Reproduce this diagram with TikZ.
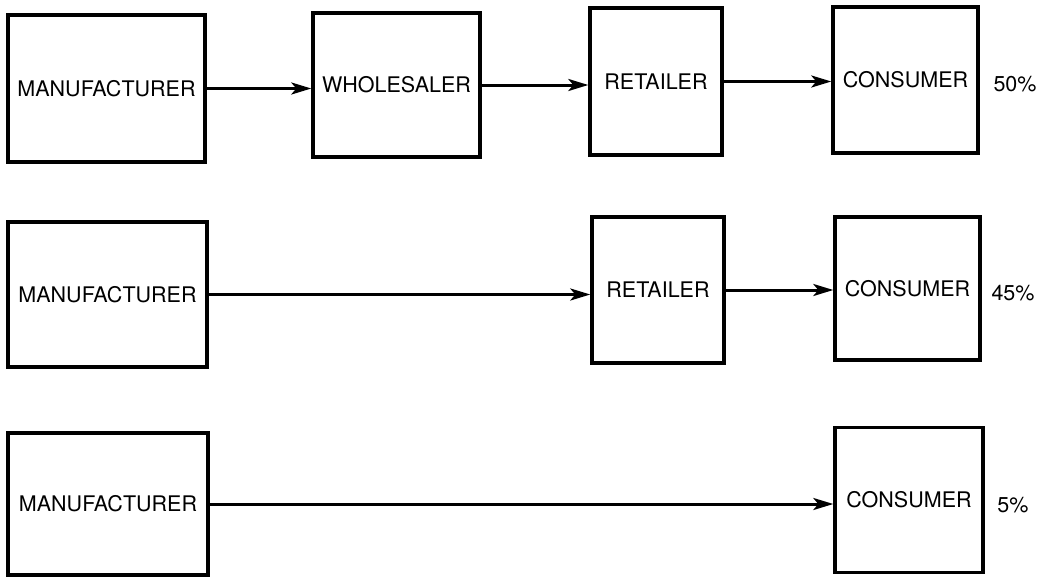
\documentclass[tikz,border=0pt]{standalone}
\usepackage{fontspec}
\setmainfont{TeX Gyre Heros}
\usetikzlibrary{arrows.meta}
\tikzset{
  box/.style={draw, line width=3.4pt, rectangle, inner sep=0pt, font=\fontsize{21.5}{25}\selectfont},
  flow/.style={line width=3pt, -{Stealth[length=20pt, width=12pt, inset=5pt]}},
  pct/.style={font=\fontsize{21.5}{25}\selectfont, inner sep=0pt}
}
\begin{document}
\begin{tikzpicture}[x=1pt, y=-1pt]
\useasboundingbox (0,0) rectangle (1051,578);
% row 1
\node[box, minimum width=197pt, minimum height=147pt] (M1) at (106.5,88.5) {MANUFACTURER};
\node[box, minimum width=167pt, minimum height=144pt] (W1) at (396.5,85) {WHOLESALER};
\node[box, minimum width=132pt, minimum height=147pt] (R1) at (656,81.5) {RETAILER};
\node[box, minimum width=145pt, minimum height=146pt] (C1) at (905.5,80) {CONSUMER};
\node[pct] (P1) at (1015,84) {50\%};
\draw[flow] (M1.east) -- (M1.east -| W1.west);
\draw[flow] (W1.east) -- (W1.east -| R1.west);
\draw[flow] (R1.east) -- (R1.east -| C1.west);
% row 2
\node[box, minimum width=199pt, minimum height=145pt] (M2) at (107.5,294.5) {MANUFACTURER};
\node[box, minimum width=132pt, minimum height=146pt] (R2) at (658,290) {RETAILER};
\node[box, minimum width=145pt, minimum height=143pt] (C2) at (907.5,288.5) {CONSUMER};
\node[pct] (P2) at (1013,293) {45\%};
\draw[flow] (M2.east) -- (M2.east -| R2.west);
\draw[flow] (R2.east) -- (R2.east -| C2.west);
% row 3
\node[box, minimum width=200pt, minimum height=142pt] (M3) at (108,504) {MANUFACTURER};
\node[box, minimum width=148pt, minimum height=145pt] (C3) at (909,500) {CONSUMER};
\node[pct] (P3) at (1013,505) {5\%};
\draw[flow] (M3.east) -- (M3.east -| C3.west);
\end{tikzpicture}
\end{document}
